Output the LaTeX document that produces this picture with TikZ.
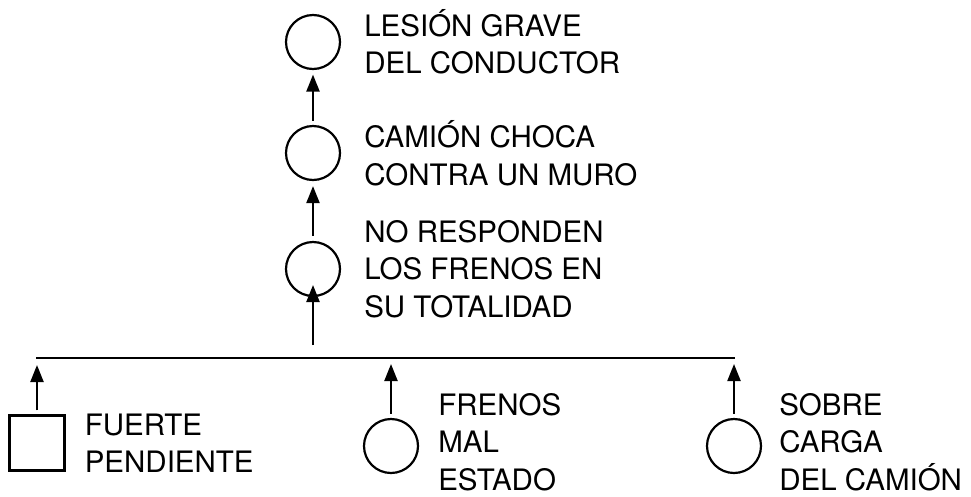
\documentclass[tikz,border=0pt]{standalone}
\usepackage{fontspec}
\setmainfont{TeX Gyre Heros}
\usetikzlibrary{arrows.meta, positioning}

\begin{document}
\begin{tikzpicture}[x=1pt, y=-1pt,
		event/.style = {circle, draw, line width=2.2pt, minimum size=54pt, inner sep=0pt},
		basic/.style = {rectangle, draw, line width=2.2pt, minimum size=55pt, inner sep=0pt},
		lbl/.style = {align=left, inner sep=0pt, font=\fontsize{29.5}{37.5}\selectfont},
		arr/.style = {-{Triangle[length=17pt, width=13pt]}, line width=2.2pt}]
		\useasboundingbox (0,0) rectangle (971,496);

		% chain of events
		\node [event] (top) at (313,42) {};
		\node [event] (crash) at (313,153) {};
		\node [event] (brakes) at (313,269) {};

		\node [lbl, right=23pt of top] (ttop) {LESIÓN GRAVE\\DEL CONDUCTOR};
		\node [lbl, right=23pt of crash] (tcrash) {CAMIÓN CHOCA\\CONTRA UN MURO};
		\node [lbl, right=23pt of brakes] (tbrakes) {NO RESPONDEN\\LOS FRENOS EN\\SU TOTALIDAD};

		\draw [arr, shorten <=4pt, shorten >=4.5pt] (crash) -- (top);
		\draw [arr, shorten <=5pt, shorten >=5pt] (brakes) -- (crash);

		% gate
		\coordinate (barl) at (36,358);
		\coordinate (barr) at (735,358);
		\coordinate (gate) at (313,345);
		\draw [line width=2.4pt] (barl) -- (barr);
		\draw [arr, shorten >=16pt] (gate) -- (brakes.center);

		% causes
		\node [basic] (slope) at (37,443) {};
		\node [event] (worn) at (391,446) {};
		\node [event] (load) at (734,446) {};

		\node [lbl, right=19pt of slope] (tslope) {FUERTE\\PENDIENTE};
		\node [lbl, right=19pt of worn, yshift=4pt] (tworn) {FRENOS\\MAL\\ESTADO};
		\node [lbl, right=17pt of load, yshift=4pt] (tload) {SOBRE\\CARGA\\DEL CAMIÓN};

		\draw [arr, shorten <=4pt, shorten >=7pt] (slope) -- (slope |- barl);
		\draw [arr, shorten <=4pt, shorten >=6pt] (worn) -- (worn |- barl);
		\draw [arr, shorten <=4pt, shorten >=6pt] (load) -- (load |- barl);
	\end{tikzpicture}
\end{document}
